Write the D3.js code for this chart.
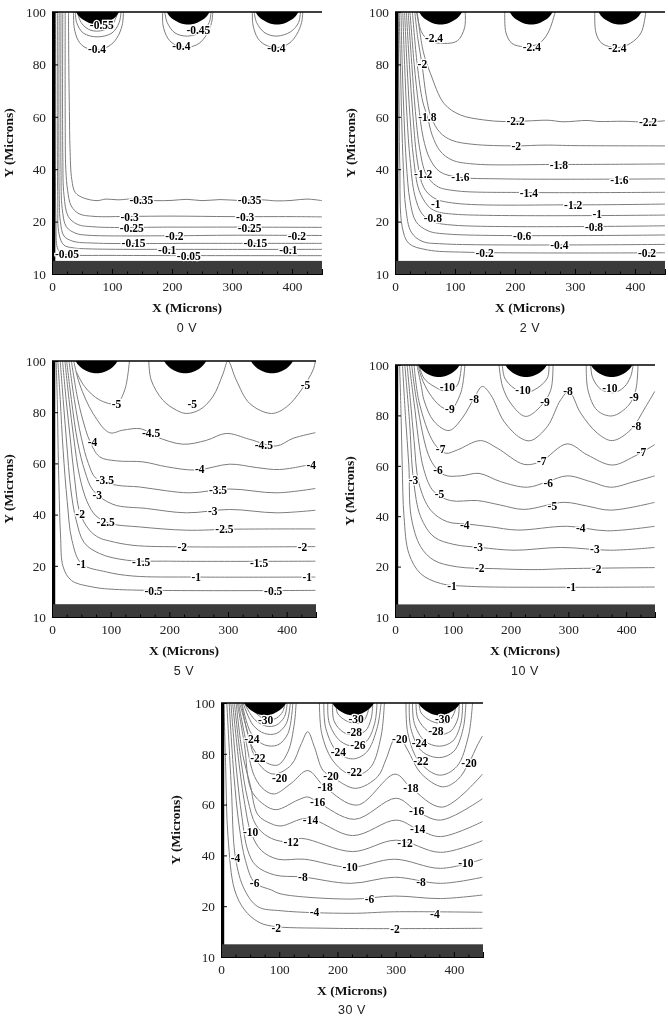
<!DOCTYPE html>
<html>
<head>
<meta charset="utf-8">
<script src="https://cdn.jsdelivr.net/npm/d3@7"></script>
<style>
html, body { margin: 0; padding: 0; background: #fff; }
svg { display: block; filter: blur(0.35px); }
</style>
</head>
<body>
<div id="chart"></div>
<script>
// axis values. the source figure spaces 100,80,60,40,20,10 evenly, so the bottom tick sits at 0 and reads "10"
var xTicks = [0, 100, 200, 300, 400];
var xMinorTicks = [25, 50, 75, 125, 150, 175, 225, 250, 275, 325, 350, 375, 425];
var yTicks = [0, 20, 40, 60, 80, 100];
var yTickLabels = ["10", "20", "40", "60", "80", "100"];
var electrodeCenters = [76, 227, 375];
var electrodeOutline = [[-36, 0], [-31, -1.6], [-24, -3], [-15, -4.1], [-6, -4.7], [0, -4.8], [6, -4.7], [15, -4.1], [24, -3], [31, -1.6], [36, 0]];
var barTop = 5, barRight = 5.5;

// 0 V
var lines0 = [
  [[36,100],[37,94],[44,89],[55,86.5],[75,85.5],[95,87],[108,90],[117,95],[119,100]],
  [[184.5,100],[185,95],[193,90],[205,87.5],[225,86.5],[245,88],[258,91.5],[266,96],[268,100]],
  [[334,100],[335,95],[343,90],[355,87.5],[375,86.4],[395,88],[408,91.5],[416,96],[418,100]],
  [[39,100],[41,96],[52,92],[75,90.5],[100,92],[112,96],[115,100]],
  [[188,100],[192,96],[205,92],[226,90.8],[250,92.5],[262,96],[265,100]],
  [[337,100],[341,96],[355,92],[375,90.8],[398,92.5],[411,96],[414,100]],
  [[42,100],[50,95.5],[65,93],[85,93],[100,95],[110,100]],
  [[27.5,100],[28,80],[29,62],[30,48],[33,36],[39,31],[53,29],[75,28],[90,28.6],[110,28.3],[130,28.6],[170,28],[200,28.1],[225,28.5],[250,28],[280,28.4],[310,28.1],[350,28.3],[375,27.9],[400,28.1],[425,28.6],[450,28]],
  [[22,100],[22,60],[23,40],[26,32],[32,26],[45,23],[70,22],[130,22],[200,22.1],[300,21.9],[400,21.9],[450,21.8]],
  [[18,100],[18,45],[20,30],[27,22],[42,19],[70,18],[200,17.9],[300,17.9],[450,17.8]],
  [[15,100],[15,40],[17,25],[24,18],[40,15.5],[60,14.8],[200,14.6],[300,14.8],[450,14.7]],
  [[12,100],[12,30],[14,20],[20,14.5],[35,12.5],[70,11.8],[250,11.7],[450,11.7]],
  [[9,100],[9.5,30],[12,15],[20,11],[35,10],[60,9.6],[250,9.4],[450,9.4]],
  [[6,100],[6.5,20],[9,10],[15,8],[30,7.3],[100,7.1],[450,7]]
];
var labels0 = [
  ["-0.55",83,95],["-0.45",244,93],["-0.4",75,85.9],["-0.4",215.6,87],["-0.4",374,86.4],
  ["-0.35",149,28.2],["-0.35",329.4,28.2],["-0.3",129.4,21.8],["-0.3",322,21.6],
  ["-0.25",133,17.7],["-0.25",329.4,17.7],["-0.2",204,14.5],["-0.2",408,14.5],
  ["-0.15",136,11.7],["-0.15",339,11.7],["-0.1",192,9.2],["-0.1",394,9.2],
  ["-0.05",25,7.6],["-0.05",228,7]
];

// 2 V
var lines2 = [
  [[36,100],[44,92.5],[57,89],[82,88],[104,89],[116,94],[117,100]],
  [[183,100],[185,92],[195,88],[215,86.8],[240,88],[255,92],[267,100]],
  [[333,100],[335,92],[345,88],[370,86.4],[392,88],[410,92],[418,100]],
  [[37,100],[47,85],[59,76.6],[82,65],[109,60.7],[148,58.8],[180,58.2],[220,58.4],[255,58.7],[280,58.1],[320,58.6],[340,58.2],[380,58.3],[420,58],[450,58.5]],
  [[33,100],[38,90],[45,80],[52,68],[60,60],[75,54],[95,51],[130,49.5],[200,48.9],[250,49.2],[300,49],[450,48.9]],
  [[29,100],[37,80],[46,66],[54,60],[62,53],[75,47],[95,43.5],[130,42],[270,41.8],[450,42]],
  [[25,100],[32,80],[39,65],[47,52],[58,44],[75,39],[105,37],[180,36.3],[450,36.3]],
  [[22,100],[28,80],[34,62],[41,48],[52,38],[70,33.5],[100,31.8],[220,31.1],[450,31.2]],
  [[19,100],[24,80],[30,60],[38,42],[48,33],[65,29],[100,27],[300,26.4],[450,26.7]],
  [[16,100],[20,80],[25,60],[31,44],[40,32],[55,26],[68,24],[100,22.8],[450,22.5]],
  [[13,100],[16,80],[20,60],[25,44],[33,30],[45,23],[63,20],[100,18.6],[450,18.4]],
  [[10,100],[12,80],[15,60],[19,42],[25,28],[35,20],[55,16.5],[90,15.2],[450,14.9]],
  [[7,100],[9,80],[11,60],[14,40],[18,25],[27,16],[45,12.5],[80,11.5],[450,11.3]],
  [[5,100],[6,80],[7,60],[8,41],[12,18],[23,11.7],[54,9.2],[120,8.3],[450,8.1]]
];
var labels2 = [
  ["-2.4",65,90],["-2.4",228,86.8],["-2.4",370.5,86.2],["-2",45.6,80],["-1.8",54,60],
  ["-2.2",201,58.3],["-2.2",421.7,58],["-2",202,48.9],["-1.8",273,41.7],["-1.6",109,37],
  ["-1.6",374,35.9],["-1.2",47,38],["-1.4",223,31],["-1.2",297,26.2],["-1",68,26.6],
  ["-0.8",63,21.2],["-1",337,22.9],["-0.8",331.7,17.8],["-0.6",212,14.6],["-0.4",274,11],
  ["-0.2",149.4,7.9],["-0.2",420,7.9]
];

// 5 V
var lines5 = [
  [[41.5,95.8],[55.7,90],[81,84.8],[110,83.4],[124,88.7],[132,100]],
  [[165,100],[169,92.6],[189,84.7],[212,80.8],[229,79.5],[252,81],[274,86],[291.5,95],[300,100],[314,92.6],[337,83.4],[374,79.5],[399.4,82],[425,88.7],[445,96.5],[449,100]],
  [[37,100],[47,91],[70,79.5],[98,72],[121,73],[152,73.5],[178,70.4],[223,67.5],[263,69],[297,71.7],[337,69.4],[382,66.8],[411,69.8],[449,72]],
  [[33,100],[44,85],[55,75],[64,69],[81,62.6],[110,61],[155,60.6],[195,58.7],[246,57.4],[303,59.7],[348,58.4],[388,57.6],[449,60]],
  [[29,100],[38,85],[50,70],[62,60],[75.6,54],[110,51.5],[149,50.8],[195,49.3],[235,48.5],[303,50],[382,48.5],[449,50.2]],
  [[25,100],[33,85],[44,68],[56,57],[70,49.5],[104,44],[161,42.4],[229,40.7],[303,42],[382,40.7],[449,41.7]],
  [[22,100],[29,85],[37,70],[47,55],[60,45],[75,39.5],[100,36.5],[149,35.2],[229,33.9],[308.5,34.3],[449,34.4]],
  [[18,100],[24,85],[31,70],[38,55],[48,40.4],[64,33.9],[80,31],[98,29.7],[138,28],[229,27.4],[449,27.5]],
  [[14,100],[19,85],[25,68],[32,50],[41,38],[55,29],[81,24.8],[127,22.2],[200,21.8],[449,21.8]],
  [[10,100],[14,85],[19,65],[26,45],[34,30],[50,20.9],[93,17.6],[138,16],[246,15.6],[449,15.6]],
  [[7,100],[9,85],[10.5,65],[12,50],[14.5,32],[19,19.6],[33,14.3],[70,11.7],[115,10.7],[449,10.4]]
];
var labels5 = [
  ["-5",110,83.4],["-5",239,83.2],["-5",432,90.6],["-4.5",169,71.7],["-4.5",361,67.3],
  ["-4",69,68.4],["-4",252,57.8],["-4",442,59.3],["-3.5",90,53.5],["-3.5",283,49.5],
  ["-3",77,47.7],["-3",274,41.3],["-2.5",91.5,37],["-2.5",294,34.2],["-2",48,40.4],
  ["-2",222,27.4],["-2",427,27.4],["-1.5",152,21.6],["-1.5",353,21.1],["-1",50,20.9],
  ["-1",246,15.6],["-1",435,15.6],["-0.5",173,10.2],["-0.5",377,10.2]
];

// 10 V
var lines10 = [
  [[41.5,100],[50,94.8],[67.5,91.5],[90.6,89.5],[108,92],[115,100]],
  [[185.8,100],[190,94.8],[206,90.8],[226,89],[246,90.8],[263.7,94.8],[266.6,100]],
  [[338.7,100],[342,95],[356,90.4],[378,89],[396.4,91.2],[408,95.5],[412,100]],
  [[40,100],[46,95],[59,88.9],[79,83.6],[96,82.2],[113.7,88.9],[121,100]],
  [[180,100],[186,91.6],[200,84.9],[226,79.6],[252,83.6],[269.5,90],[273.5,100]],
  [[331,100],[334,90],[350,82],[376,79.8],[405,84.2],[416.6,90],[420.6,100]],
  [[38,100],[46,91],[50,86.2],[67.5,77.6],[93.5,74],[116.6,79],[137,86.9],[151,91.5],[165.6,88.2],[188.7,77.6],[217.5,71],[235,70],[263.7,75.6],[286.8,86.2],[301,89.5],[321.4,80.9],[350,73],[376,70],[408,74.3],[434,83.5],[449.5,89.5]],
  [[33,100],[42,85],[67.5,69],[87.7,65],[108,66.3],[148,70],[177,67],[223,60.6],[252,61.7],[298,68.7],[333,64.3],[376,60.3],[413.7,63.7],[449.5,68.4]],
  [[29,100],[38,85],[61.7,62.3],[85,56.4],[113.7,56],[145.4,57],[183,53.7],[229,51.5],[263.7,53.7],[298,56],[338.7,53.7],[373,51.5],[413.7,53.7],[449.5,56]],
  [[25,100],[33,85],[50,58.4],[67.5,49.7],[96,46.2],[142.5,46.2],[183,44.4],[223,42.7],[292.6,45.5],[333,44],[373,42.4],[449.5,45.5]],
  [[21,100],[27,85],[33,70],[41.5,53],[61.7,42.4],[90.6,37.8],[125,36.9],[165.6,35.8],[212,34.5],[298,36],[367.6,34.2],[449.5,36]],
  [[17,100],[25,78],[32,54.4],[44.4,39.8],[67.5,31.8],[102,28.8],[148,27.6],[206,26.5],[287,27.6],[373,26.5],[449.5,27.6]],
  [[13,100],[18,80],[24,60],[28,39.8],[44.4,27.9],[67.5,22.5],[108,19.9],[171,19.2],[240.6,18.8],[298,19.2],[449.5,19.6]],
  [[8,100],[10.5,80],[12.5,60],[15.6,39.8],[24,25.2],[44.4,17.2],[79,13.3],[125,12.2],[300,11.8],[449.5,11.9]]
];
var labels10 = [
  ["-10",90.6,91.2],["-9",95,82.5],["-8",137,86.6],["-7",79,66.6],["-6",74.4,58.4],["-5",77,48.8],
  ["-3",32,54.4],["-4",120.6,36.6],["-3",144,27.9],["-2",146.6,19.6],["-1",98.7,12.2],
  ["-10",221.6,90.2],["-9",259.7,85.5],["-8",299.5,89.5],["-7",254,62],["-6",265.4,53],["-5",272.4,44.2],
  ["-4",321.4,35.4],["-3",346,26.8],["-2",349,19],["-1",305,11.8],
  ["-10",372,90.8],["-9",413.7,87.4],["-8",417.8,75.7],["-7",426.4,65.6]
];

// 30 V
var lines30 = [
  [[41,100],[60.6,95.9],[77.7,93.3],[95,94],[106,96.6],[110,100]],
  [[40,100],[57.7,93.5],[77.7,90.9],[95,91.3],[109,94.6],[113.7,100]],
  [[38,100],[55,91.3],[75,88],[95,88],[112,91.8],[119,100]],
  [[36,100],[52,88],[75,83.5],[97.7,83.5],[115,88],[123.4,100]],
  [[35,100],[53,83],[75,76.9],[97.7,75.6],[115,80.8],[126,92],[129,100]],
  [[197.7,100],[200,96],[215,93],[232,92],[245,93],[253,97],[255,100]],
  [[192,100],[194,93],[210,88.5],[229,87.4],[248,89],[258,94],[260.6,100]],
  [[183.4,100],[186,92],[205,85],[228,83],[250,85],[264,92],[268,100]],
  [[176.6,100],[180,90],[200,80.6],[226,78],[250,80.6],[268,90],[275,100]],
  [[169,100],[173,88],[190,78],[215,72.5],[235,71.6],[258,75],[275,87],[280.6,100]],
  [[340,100],[344,96],[360,93],[378,92],[392,93],[402,97],[404,100]],
  [[335,100],[338,94],[355,89],[375,87.5],[395,89],[407,94],[409,100]],
  [[329,100],[332,92],[350,85],[375,83],[398,85],[412,92],[415,100]],
  [[323.4,100],[326,90],[345,81],[375,78.5],[400,81],[416,90],[420.6,100]],
  [[317.7,100],[321,88],[340,77],[375,71.6],[405,75],[425,87],[432,100]],
  [[32,100],[44,90],[57.7,78.9],[75,73.6],[92,72],[120.6,75.6],[138,84],[149,88.7],[160,83],[175,73.5],[189,71.3],[230.7,66.4],[269,71],[283,77.6],[298,86],[306.3,86.7],[320.6,81.5],[343.4,72.3],[380.6,67],[406,69.7],[426,76.5],[440.6,83.5],[449,87]],
  [[30,100],[42,86],[57.7,71],[75,65.7],[92,64.2],[120.6,68.4],[149,73.4],[179,66.8],[234,59.8],[299,72],[326,66.7],[380,59],[449,72]],
  [[28,100],[40,84],[52,65.7],[75,59.8],[95,58],[132,61.8],[149,63],[166,61],[229,54.2],[301,62.5],[336,57.5],[377,53.9],[449,62.3]],
  [[26,100],[37,80],[50,68],[63.4,56],[86,52.5],[103,51.6],[149,54.6],[226,47.8],[301,53.9],[337.7,50.3],[377,47.4],[449,53.3]],
  [[23,100],[34,78],[46,62],[60,52],[80.6,47.4],[109,45.4],[138,46.7],[226,41.5],[301,46],[377,41.2],[449,45.8]],
  [[20,100],[30,78],[41,60],[51,49.3],[69,42],[97.7,38.5],[143,38.5],[221.7,35.3],[298,38.5],[377,34.9],[449,38.5]],
  [[17,100],[26,75],[36,55],[46,42],[60,36],[92,32.3],[140.6,31.5],[223,29],[298,31.4],[377,29],[449,31.4]],
  [[14,100],[22,72],[31,52],[42,38],[57.7,29.3],[86.3,26.4],[103.4,24.8],[223,22.8],[298,24],[377,23],[449,24.4]],
  [[10,100],[17.7,67],[25,38.8],[40.6,26.4],[63.4,19.8],[103.4,18.2],[223,17.2],[298,17.8],[449,17.6]],
  [[5,100],[8,75],[12,47.4],[23.4,26.4],[40.6,18.5],[63.4,13.9],[86.3,12.2],[189,11.3],[449,11.3]]
];
var labels30 = [
  ["-30",76.6,93.3],["-24",53,86],["-22",63.4,78.5],["-20",100.6,70.6],["-10",51,49.3],["-4",25,38.8],
  ["-6",57.7,29.3],["-2",95,11.3],["-4",160.6,17.6],["-6",255,23],["-8",140.6,31.5],["-10",221.7,35.3],
  ["-12",120.6,45.4],["-14",153.7,54],["-16",166,61],["-18",179,66.8],["-20",189,71.3],["-22",229,72.7],
  ["-24",201.7,80.6],["-26",235,83.5],["-28",229,88.7],["-30",232,93.6],
  ["-2",299,10.9],["-4",367.4,16.8],["-8",343.4,29.5],["-10",420.6,36.9],["-12",316,45],["-14",337.7,50.3],
  ["-16",336,57.5],["-18",326,66.7],["-20",307,85.7],["-20",426,76.5],["-22",343.4,77.3],["-24",340.6,84.4],
  ["-28",369,89],["-30",380.6,93.6]
];

var svg = d3.select("#chart").append("svg")
    .attr("width", 668)
    .attr("height", 1017);

function drawPanel(opt, lines, labels) {
  var xScale = d3.scaleLinear().domain([0, 450]).range([opt.left, opt.right]);
  var yScale = d3.scaleLinear().domain([0, 100]).range([opt.bottom, opt.top]);

  var line = d3.line()
      .x(function(d) { return xScale(d[0]); })
      .y(function(d) { return yScale(d[1]); })
      .curve(d3.curveCatmullRom.alpha(0.5));

  var g = svg.append("g");

  g.selectAll(".contour")
      .data(lines)
      .enter().append("path")
      .attr("class", "contour")
      .attr("d", line)
      .attr("fill", "none")
      .attr("stroke", "#7c7c7c")
      .attr("stroke-width", 1);

  // electrodes along the top edge
  electrodeCenters.forEach(function(c) {
    var pts = electrodeOutline.map(function(p) { return [c + p[0], 100 + p[1]]; });
    g.append("path")
        .attr("d", line(pts) + "Z")
        .attr("fill", "#000");
  });

  g.append("rect")
      .attr("x", xScale(0))
      .attr("y", yScale(100))
      .attr("width", xScale(barRight) - xScale(0))
      .attr("height", yScale(0) - yScale(100))
      .attr("fill", "#000");

  g.append("rect")
      .attr("x", xScale(0))
      .attr("y", yScale(barTop))
      .attr("width", xScale(450) - xScale(0))
      .attr("height", yScale(0) - yScale(barTop))
      .attr("fill", "#3b3b3b");

  g.append("line")
      .attr("x1", xScale(0))
      .attr("x2", xScale(450))
      .attr("y1", yScale(100))
      .attr("y2", yScale(100))
      .attr("stroke", "#000")
      .attr("stroke-width", 1.4);

  var xAxis = g.append("g")
      .attr("transform", "translate(0," + opt.bottom + ")")
      .call(d3.axisBottom(xScale).tickValues(xTicks).tickSize(-5).tickPadding(8).tickFormat(d3.format("d")));

  g.append("g")
      .attr("transform", "translate(0," + opt.bottom + ")")
      .call(d3.axisBottom(xScale).tickValues(xMinorTicks).tickSize(-2.5).tickFormat(""))
      .call(function(a) {
        a.selectAll("line").attr("stroke", "#000");
        a.select(".domain").attr("stroke", "#000");
      });

  var yAxis = g.append("g")
      .attr("transform", "translate(" + opt.left + ",0)")
      .call(d3.axisLeft(yScale).tickValues(yTicks).tickSize(-6).tickPadding(6)
        .tickFormat(function(d, i) { return yTickLabels[i]; }));

  [xAxis, yAxis].forEach(function(a) {
    a.selectAll("text")
        .style("font-family", "'Liberation Serif', serif")
        .style("font-size", "13.3px")
        .attr("fill", "#222");
    a.selectAll("line").attr("stroke", "#000");
    a.select(".domain").attr("stroke", "#000");
  });

  g.selectAll(".clabel")
      .data(labels)
      .enter().append("text")
      .attr("class", "clabel")
      .attr("x", function(d) { return xScale(d[1]); })
      .attr("y", function(d) { return yScale(d[2]); })
      .attr("dy", "0.35em")
      .attr("text-anchor", "middle")
      .attr("paint-order", "stroke")
      .attr("stroke", "#fff")
      .attr("stroke-width", 2.5)
      .attr("fill", "#000")
      .style("font-family", "'Liberation Serif', serif")
      .style("font-weight", "bold")
      .style("font-size", "11.5px")
      .text(function(d) { return d[0]; });

  g.append("text")
      .attr("x", (opt.left + opt.right) / 2)
      .attr("y", opt.bottom + 38)
      .attr("text-anchor", "middle")
      .attr("fill", "#111")
      .style("font-family", "'Liberation Serif', serif")
      .style("font-weight", "bold")
      .style("font-size", "13.5px")
      .text("X (Microns)");

  g.append("text")
      .attr("transform", "translate(" + opt.yTitleX + "," + (opt.top + opt.bottom) / 2 + ") rotate(-90)")
      .attr("text-anchor", "middle")
      .attr("fill", "#111")
      .style("font-family", "'Liberation Serif', serif")
      .style("font-weight", "bold")
      .style("font-size", "13.5px")
      .text("Y (Microns)");

  g.append("text")
      .attr("x", (opt.left + opt.right) / 2)
      .attr("y", opt.captionY)
      .attr("text-anchor", "middle")
      .attr("fill", "#222")
      .style("font-family", "'Liberation Sans', sans-serif")
      .style("font-size", "12.5px")
      .style("letter-spacing", "0.6px")
      .text(opt.caption);
}

drawPanel({left: 52, right: 322, top: 12, bottom: 274, yTitleX: 13, captionY: 332, caption: "0 V"}, lines0, labels0);
drawPanel({left: 395, right: 665, top: 12, bottom: 274, yTitleX: 355, captionY: 332, caption: "2 V"}, lines2, labels2);
drawPanel({left: 52, right: 316, top: 361, bottom: 617, yTitleX: 13, captionY: 675, caption: "5 V"}, lines5, labels5);
drawPanel({left: 395, right: 655, top: 365, bottom: 617, yTitleX: 354, captionY: 675, caption: "10 V"}, lines10, labels10);
drawPanel({left: 221, right: 483, top: 703, bottom: 957, yTitleX: 180, captionY: 1014, caption: "30 V"}, lines30, labels30);
</script>
</body>
</html>
